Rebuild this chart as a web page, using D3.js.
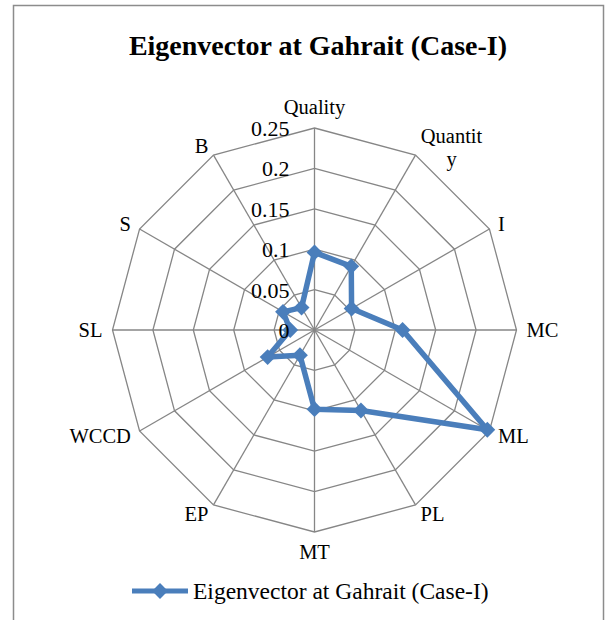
<!DOCTYPE html>
<html>
<head>
<meta charset="utf-8">
<script src="https://cdn.jsdelivr.net/npm/d3@7"></script>
<style>
  body { margin: 0; background: #fff; }
  text { font-family: "Liberation Serif", "Times New Roman", serif; fill: #000; }
</style>
</head>
<body>
<svg id="chart" width="605" height="620"></svg>
<script>
// data
var categories = ["Quality", "Quantity", "I", "MC", "ML", "PL", "MT", "EP", "WCCD", "SL", "S", "B"];
var values = [0.096, 0.091, 0.053, 0.109, 0.247, 0.115, 0.098, 0.036, 0.067, 0.030, 0.045, 0.032];
var tickValues = [0, 0.05, 0.1, 0.15, 0.2, 0.25];
var tickLabels = ["0", "0.05", "0.1", "0.15", "0.2", "0.25"];
var seriesName = "Eigenvector at Gahrait (Case-I)";

var svg = d3.select("#chart");
var cx = 314.5, cy = 330, R = 202;
var blue = "#4a7ebb", grid = "#868686";

// chart frame (bottom edge runs off the picture)
svg.append("rect")
  .attr("x", 13.5).attr("y", 5.5)
  .attr("width", 590).attr("height", 700)
  .attr("fill", "none").attr("stroke", "#8c8c8c").attr("stroke-width", 1.5);

// title
svg.append("text")
  .attr("x", 318).attr("y", 55)
  .attr("text-anchor", "middle")
  .style("font-size", "28px").style("font-weight", "bold")
  .text(seriesName);

var r = d3.scaleLinear().domain([0, 0.25]).range([0, R]);
var angle = d3.scaleLinear().domain([0, categories.length]).range([0, 2 * Math.PI]);

var g = svg.append("g").attr("transform", "translate(" + cx + "," + cy + ")");

// rings
var ring = d3.lineRadial()
  .angle(function(d, i) { return angle(i); })
  .radius(function(d) { return r(d); })
  .curve(d3.curveLinearClosed);

g.selectAll(".ring")
  .data(tickValues.slice(1))
  .enter().append("path")
  .attr("d", function(t) { return ring(categories.map(function() { return t; })); })
  .attr("fill", "none").attr("stroke", grid).attr("stroke-width", 1.3);

// spokes
g.selectAll(".spoke")
  .data(categories)
  .enter().append("line")
  .attr("x1", 0).attr("y1", 0)
  .attr("x2", function(d, i) { return r(0.25) * Math.sin(angle(i)); })
  .attr("y2", function(d, i) { return -r(0.25) * Math.cos(angle(i)); })
  .attr("stroke", grid).attr("stroke-width", 1.3);

// category labels
categories.forEach(function(c, i) {
  var a = angle(i), dx = Math.sin(a), dy = -Math.cos(a);
  var px = (R + 10) * dx, py = (R + 10) * dy;
  var anchor = Math.abs(dx) < 0.01 ? "middle" : (dx > 0 ? "start" : "end");
  var t = g.append("text")
    .attr("text-anchor", anchor)
    .style("font-size", "20.5px");
  if (c === "Quantity") {
    // wrapped like the original
    t.append("tspan").attr("x", px + 31).attr("y", py - 3).attr("text-anchor", "middle").text("Quantit");
    t.append("tspan").attr("x", px + 31).attr("y", py + 20).attr("text-anchor", "middle").text("y");
    return;
  }
  var by;
  if (dy < -0.99) by = py - 4;
  else if (dy > 0.99) by = py + 17;
  else by = py + 7;
  t.attr("x", px).attr("y", by).text(c);
});

// series
var line = d3.lineRadial()
  .angle(function(d, i) { return angle(i); })
  .radius(function(d) { return r(d); })
  .curve(d3.curveLinearClosed);

g.append("path")
  .datum(values)
  .attr("d", line)
  .attr("fill", "none").attr("stroke", blue)
  .attr("stroke-width", 5.5).attr("stroke-linejoin", "round");

var diamond = d3.symbol().type(d3.symbolDiamond2).size(160);
g.selectAll(".pt")
  .data(values)
  .enter().append("path")
  .attr("d", diamond)
  .attr("transform", function(d, i) {
    return "translate(" + (r(d) * Math.sin(angle(i))) + "," + (-r(d) * Math.cos(angle(i))) + ")";
  })
  .attr("fill", blue);

// value axis labels (drawn over the series, like the original)
g.selectAll(".tick")
  .data(tickValues)
  .enter().append("text")
  .attr("x", -25)
  .attr("y", function(d) { return -r(d) + 8; })
  .attr("text-anchor", "end")
  .style("font-size", "22px")
  .text(function(d, i) { return tickLabels[i]; });

// legend
var lg = svg.append("g").attr("transform", "translate(132,591)");
lg.append("line").attr("x1", 0).attr("x2", 56).attr("y1", 0).attr("y2", 0)
  .attr("stroke", blue).attr("stroke-width", 5);
lg.append("path").attr("d", diamond).attr("transform", "translate(28,0)").attr("fill", blue);
lg.append("text").attr("x", 61).attr("y", 8)
  .style("font-size", "23.5px").text(seriesName);
</script>
</body>
</html>
